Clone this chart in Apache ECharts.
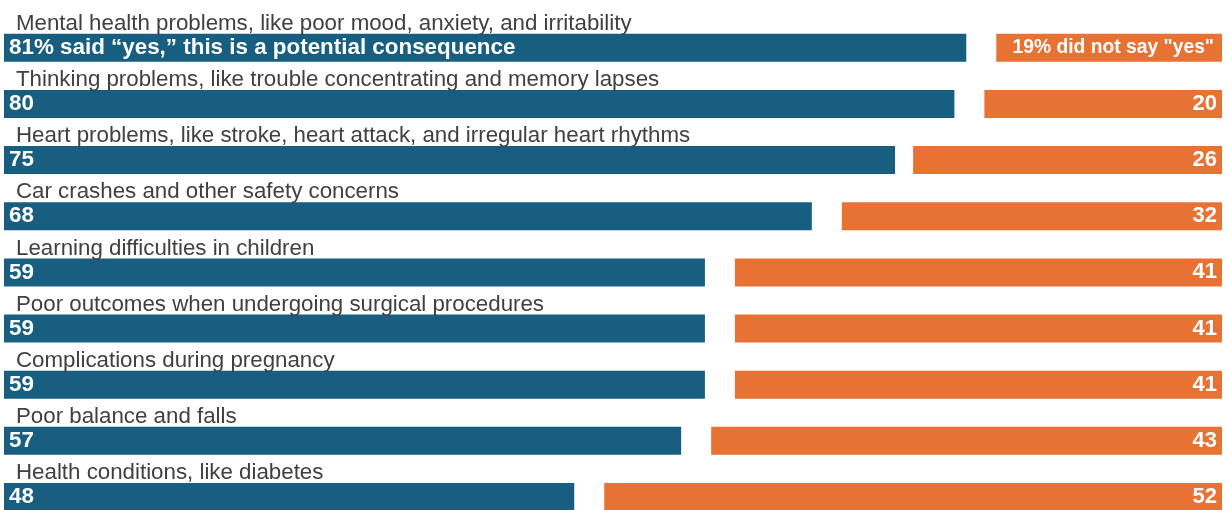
<!DOCTYPE html>
<html>
<head>
<meta charset="utf-8">
<style>
  html, body { margin: 0; padding: 0; background: #ffffff; overflow: hidden; }
  #chart { width: 1228px; height: 525px; }
</style>
<script src="https://cdn.jsdelivr.net/npm/echarts@6/dist/echarts.min.js"></script>
</head>
<body>
<div id="chart"></div>
<script>
// Potential consequences of not getting enough sleep
const categories = [
  'Mental health problems, like poor mood, anxiety, and irritability',
  'Thinking problems, like trouble concentrating and memory lapses',
  'Heart problems, like stroke, heart attack, and irregular heart rhythms',
  'Car crashes and other safety concerns',
  'Learning difficulties in children',
  'Poor outcomes when undergoing surgical procedures',
  'Complications during pregnancy',
  'Poor balance and falls',
  'Health conditions, like diabetes'
];
// Percent who said "yes"
const yesValues = [81, 80, 75, 68, 59, 59, 59, 57, 48];
// Percent who did not say "yes"
const notYesValues = [19, 20, 26, 32, 41, 41, 41, 43, 52];

const firstYesText = '% said \u201cyes,\u201d this is a potential consequence';
const firstNotYesText = '% did not say "yes"';

// Blue bars grow from the left edge, orange bars from the right edge;
// the axis span leaves a small white gap between the two.
const AXIS_MAX = 102.525;

const BLUE = '#175E81';
const ORANGE = '#E87233';
const FONT = '"Liberation Sans", Arial, sans-serif';

const chart = echarts.init(document.getElementById('chart'), null, { renderer: 'canvas' });

chart.setOption({
  animation: false,
  backgroundColor: '#ffffff',
  // the last row runs off the bottom edge of the page
  grid: { left: 4, right: 6, top: 17, bottom: 0, containLabel: false },
  xAxis: [
    { type: 'value', min: 0, max: AXIS_MAX, show: false },
    { type: 'value', min: 0, max: AXIS_MAX, inverse: true, show: false }
  ],
  yAxis: {
    type: 'category',
    data: categories,
    inverse: true,
    axisLine: { show: false },
    axisTick: { show: false },
    splitLine: { show: false },
    axisLabel: {
      inside: true,
      margin: 12,
      align: 'left',
      verticalAlign: 'bottom',
      // a tall line box lifts each name above its pair of bars
      lineHeight: 48,
      color: '#404040',
      fontFamily: FONT,
      fontSize: 22.3
    },
    z: 10
  },
  series: [
    {
      name: 'Yes',
      type: 'bar',
      xAxisIndex: 0,
      data: yesValues,
      barWidth: 28,
      itemStyle: { color: BLUE },
      label: {
        show: true,
        position: 'insideLeft',
        distance: 5,
        color: '#ffffff',
        fontFamily: FONT,
        fontWeight: 'bold',
        fontSize: 22.4,
        formatter: p => p.dataIndex === 0 ? p.value + firstYesText : String(p.value)
      }
    },
    {
      name: 'Did not say yes',
      type: 'bar',
      xAxisIndex: 1,
      // the first label is a longer sentence, set slightly smaller
      data: notYesValues.map((v, i) => i === 0
        ? { value: v, label: { fontSize: 19.3, distance: 8 } }
        : v),
      barWidth: 28,
      barGap: '-100%',
      itemStyle: { color: ORANGE },
      label: {
        show: true,
        position: 'insideRight',
        distance: 5,
        color: '#ffffff',
        fontFamily: FONT,
        fontWeight: 'bold',
        fontSize: 22,
        formatter: p => p.dataIndex === 0 ? p.value + firstNotYesText : String(p.value)
      }
    }
  ]
});
</script>
</body>
</html>
